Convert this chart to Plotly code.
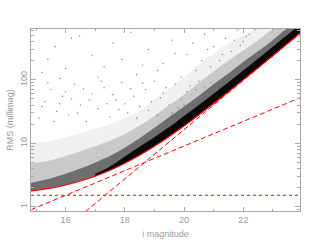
import plotly.graph_objects as go

# ---- data ----
grid_mag = [14.83, 15.5, 16, 16.5, 17, 17.5, 18, 18.5, 19, 19.5, 20, 20.5, 21, 21.5, 22, 22.5, 23, 23.5, 23.92]
model_total = [1.78, 1.97, 2.20, 2.54, 3.03, 3.76, 4.86, 6.49, 8.98, 12.8, 18.7, 27.9, 42.3, 64.6, 99.7, 154, 239, 372, 540]

# density envelopes of the star cloud (upper edge; lower edge = model_total)
cloud_light = [10, 11, 12.5, 14.5, 17, 20, 25, 32, 50, 72, 110, 170, 260, 380, 500, 650, 700, 700, 700]
cloud_medium = [4.8, 5.4, 6.3, 7.5, 9, 11, 14, 19, 27, 40, 58, 90, 135, 200, 290, 420, 620, 700, 700]
cloud_dense = [2.4, 2.8, 3.3, 4.0, 5.0, 6.3, 8.5, 12, 17.5, 26, 38, 56, 85, 125, 190, 280, 420, 640, 700]
cloud_core = [None, None, None, None, 3.3, 4.3, 6.2, 8.8, 12.5, 18, 27, 40, 60, 91, 140, 215, 330, 510, 700]

# noise components
source_mag = [14.83, 23.92]
source_rms = [0.90, 52]
sky_mag = [16.67, 23.92]
sky_rms = [0.84, 538]
floor_mag = [14.83, 23.92]
floor_rms = [1.52, 1.52]

# scattered outlier stars
out_mag = [15.2, 15.65, 16.2, 16.47, 17.3, 17.9, 18.4, 18.8, 19.3, 19.6, 20.1, 20.4, 20.7, 21.0, 21.2, 20.9, 19.9, 18.2,
           17.6, 16.9, 16.0, 15.4, 19.1, 20.3, 21.4, 21.6, 21.8, 22.0, 21.9, 22.2, 20.6, 19.7, 18.6, 17.1, 15.8, 22.4,
           21.3, 20.8, 21.7, 22.1,
           15.1, 15.3, 15.5, 15.7, 15.9, 16.1, 16.3, 16.5, 16.7, 16.9, 17.1, 17.3, 17.5, 17.7, 17.9, 18.1, 18.3, 18.5,
           18.7, 18.9, 19.1, 19.3, 19.5, 19.7, 19.9, 20.1, 20.3, 20.5, 20.7, 20.9, 15.2, 15.6, 16.0, 16.4, 16.8, 17.2,
           17.6, 18.0, 18.4, 18.8, 19.2, 19.6, 20.0, 20.4, 20.8, 21.0, 21.1, 19.4, 18.6, 17.4, 16.2, 15.4, 17.8, 19.8,
           20.2, 20.6, 18.2, 19.0, 16.6, 15.8]
out_rms = [130, 330, 450, 490, 160, 210, 120, 300, 180, 420, 250, 140, 520, 330, 200, 160, 110, 560,
           380, 240, 150, 210, 140, 380, 450, 280, 600, 400, 350, 520, 200, 260, 170, 110, 105, 610,
           250, 300, 420, 480,
           25, 45, 70, 32, 55, 28, 85, 40, 22, 60, 35, 75, 26, 48, 90, 30, 55, 38,
           70, 45, 28, 62, 40, 85, 50, 65, 45, 95, 75, 90, 38, 22, 65, 30, 48, 95,
           58, 42, 25, 33, 52, 30, 40, 70, 58, 85, 70, 75, 88, 42, 50, 90, 34, 36,
           80, 55, 72, 95, 72, 42]

x_range = [14.83, 23.92]
y_range_log = [-0.066, 2.799]

AXIS = "#a8a8a8"
TEXT = "#9a9a9a"
RED = "#ff0000"

fig = go.Figure()


def band(upper, color):
    xs, up, lo = [], [], []
    for m, u, l in zip(grid_mag, upper, model_total):
        if u is None:
            continue
        xs.append(m)
        up.append(u)
        lo.append(l)
    fig.add_trace(go.Scatter(x=xs + xs[::-1], y=up + lo[::-1], fill="toself", fillcolor=color,
                             line=dict(width=0), mode="lines", line_shape="spline",
                             hoverinfo="skip", showlegend=False))


band(cloud_light, "rgba(0,0,0,0.06)")
band(cloud_medium, "rgba(0,0,0,0.16)")
band(cloud_dense, "rgba(0,0,0,0.45)")
band(cloud_core, "rgba(0,0,0,0.92)")

fig.add_trace(go.Scatter(x=out_mag, y=out_rms, mode="markers",
                         marker=dict(size=1.4, color="#808080"), showlegend=False))

fig.add_trace(go.Scatter(x=floor_mag, y=floor_rms, mode="lines",
                         line=dict(color=RED, width=1.2, dash="dot"), showlegend=False))
fig.add_trace(go.Scatter(x=source_mag, y=source_rms, mode="lines",
                         line=dict(color=RED, width=1, dash="5px,3px"), showlegend=False))
fig.add_trace(go.Scatter(x=sky_mag, y=sky_rms, mode="lines",
                         line=dict(color=RED, width=1, dash="5px,3px"), showlegend=False))
fig.add_trace(go.Scatter(x=grid_mag, y=model_total, mode="lines", line_shape="spline",
                         line=dict(color=RED, width=1.1), showlegend=False))

font = dict(family="Liberation Sans, DejaVu Sans, sans-serif", size=9, color=TEXT)

fig.update_layout(
    width=319, height=245,
    margin=dict(l=31, r=19, t=29, b=34),
    paper_bgcolor="white", plot_bgcolor="white",
    font=font,
    xaxis=dict(range=x_range, showgrid=False, zeroline=False, showline=True, linecolor=AXIS, linewidth=1,
               mirror="ticks", ticks="inside", ticklen=4, tickcolor=AXIS, tick0=16, dtick=2, automargin=False,
               minor=dict(ticks="inside", ticklen=2, tickcolor=AXIS, tick0=15, dtick=1, showgrid=False),
               tickfont=font, title=dict(text="i magnitude", font=font, standoff=6)),
    yaxis=dict(type="log", range=y_range_log, showgrid=False, zeroline=False, showline=True, linecolor=AXIS,
               linewidth=1, mirror="ticks", ticks="inside", ticklen=5, tickcolor=AXIS, dtick=1, tickangle=-90,
               automargin=False, ticklabelstandoff=-1,
               minor=dict(ticks="inside", ticklen=3, tickcolor=AXIS, dtick="D1", showgrid=False),
               tickfont=font, title=dict(text="RMS (millimag)", font=font, standoff=4)),
)

fig.write_html("out.html", config={"responsive": False, "displayModeBar": False},
               post_script="document.body.style.margin='0';document.body.style.overflow='hidden';")
